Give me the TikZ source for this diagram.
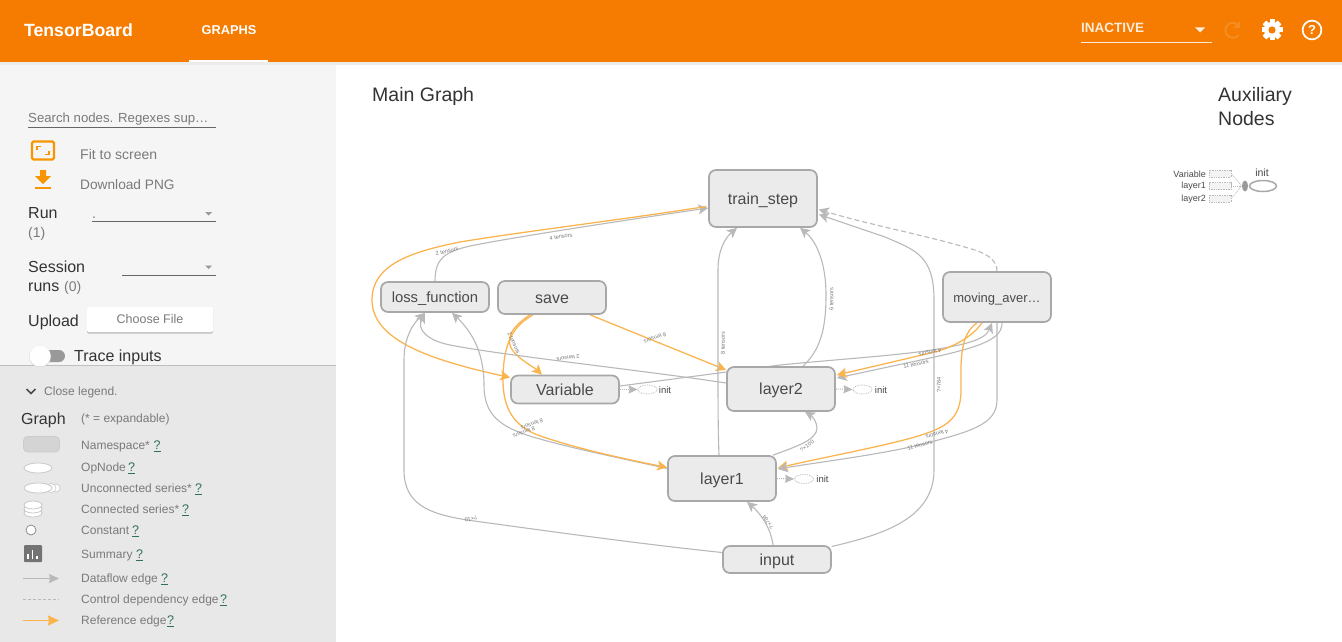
\documentclass[tikz,border=0pt]{standalone}
\usepackage{fontspec}
\setmainfont{Liberation Sans}
\usetikzlibrary{arrows.meta,calc,backgrounds,shadows,shapes.geometric}
\definecolor{hdr}{HTML}{F57C00}
\definecolor{side}{HTML}{F5F5F5}
\definecolor{leg}{HTML}{E8E8E8}
\definecolor{eg}{HTML}{B9B9B9}
\definecolor{eo}{HTML}{FBB34C}
\definecolor{nfill}{HTML}{EBEBEB}
\definecolor{nline}{HTML}{A8A8A8}
\definecolor{txt}{HTML}{4A4A4A}
\definecolor{muted}{HTML}{7A7A7A}
\definecolor{linkc}{HTML}{2F6F5F}
\tikzset{
  gnode/.style={draw=nline,fill=nfill,line width=1.7pt,rounded corners=7pt,inner sep=0pt,
    minimum width=108pt,text=txt,font=\fontsize{16}{16}\selectfont,text height=14pt,text depth=3pt},
  gedge/.style={draw=eg,line width=1.1pt,-{Stealth[length=10pt,width=10pt,inset=2.5pt]}},
  redge/.style={draw=eo,line width=1.25pt,-{Stealth[length=10pt,width=10pt,inset=2.5pt]}},
  cedge/.style={draw=eg,line width=1.1pt,dash pattern=on 5pt off 3pt,-{Stealth[length=10pt,width=10pt,inset=2.5pt]}},
  elabel/.style={inner sep=0pt,text=muted,font=\fontsize{5.6}{6}\selectfont},
  lbl/.style={anchor=west,inner sep=0pt},
  side14/.style={lbl,text=muted,font=\fontsize{14}{14}\selectfont,text height=13pt,text depth=2pt},
  side16/.style={lbl,text=black!80,font=\fontsize{16}{16}\selectfont,text height=14pt,text depth=2.5pt},
  legt/.style={lbl,text=muted,font=\fontsize{12}{12}\selectfont,text height=11.5pt,text depth=2.3pt},
  lk/.style={lbl,text=linkc,font=\fontsize{12.5}{12.5}\selectfont,text height=11.5pt,text depth=2.3pt},
  title/.style={lbl,text=black!80,font=\fontsize{19.5}{20}\selectfont,text height=17pt,text depth=2pt},
  initell/.style={draw=eg,densely dotted,line width=.8pt,fill=white,ellipse,inner sep=0pt,minimum width=19pt,minimum height=9pt},
  inittxt/.style={inner sep=0pt,text=txt,font=\fontsize{9.5}{9.5}\selectfont},
  initedge/.style={draw=eg,densely dotted,line width=1pt,-{Stealth[length=9pt,width=8pt,inset=1pt]}},
  auxbox/.style={draw=eg,densely dotted,line width=.7pt,fill=nfill!60,minimum width=22pt,minimum height=7pt,inner sep=0pt},
  auxtxt/.style={anchor=east,inner sep=0pt,text=txt,font=\fontsize{9}{9}\selectfont},
  uline/.style={draw=black!60,line width=.8pt},
}
\newcommand{\legq}[3]{\node[lk] (#1) at (#2,#3) {\underline{?}};}
\begin{document}
\begin{tikzpicture}[x=1pt,y=-1pt]
\useasboundingbox (0,0) rectangle (1342,642);
\begin{scope}[on background layer]
\fill[white] (0,0) rectangle (1342,642);
\end{scope}
% panels
\fill[side] (0,62) rectangle (336,365);
\fill[leg] (0,365) rectangle (336,642);
\draw[black!25,line width=.8pt] (0,365) -- (336,365);
\fill[black!8] (0,62) rectangle (1342,65);
\fill[hdr] (0,0) rectangle (1342,62);
\node[inner sep=0pt,text=white,font=\bfseries\fontsize{17.7}{18}\selectfont] (brand) at (78.5,30) {TensorBoard};
\node[inner sep=0pt,text=white,font=\bfseries\fontsize{12.8}{14}\selectfont] (tab) at (229,30) {GRAPHS};
\fill[white] (189,60.5) rectangle (268,62);
\node[lbl,text=white!85!hdr,font=\bfseries\fontsize{13.5}{14}\selectfont,text height=12pt,text depth=2pt] (inactive) at (1081,28) {INACTIVE};
\draw[white!85!hdr,line width=.9pt] (1081,42.5) -- (1212,42.5);
\fill[white!85!hdr] (1195,27.5) -- (1205,27.5) -- (1200,32.5) -- cycle;
% refresh
\draw[white!13!hdr,line width=2pt] (1239,26) arc[start angle=-35,end angle=-320,radius=7.5];
\fill[white!13!hdr] (1240,21) -- (1240,28) -- (1233,28) -- cycle;
% gear
\foreach \a in {0,45,...,315}{
  \fill[white,rotate around={\a:(1272,30)}] (1269.5,19.5) rectangle (1274.5,40.5);
}
\fill[white] (1272,30) circle[radius=8];
\fill[hdr] (1272,30) circle[radius=3.6];
% help
\draw[white,line width=1.7pt] (1312,30) circle[radius=9.4];
\node[inner sep=0pt,text=white,font=\bfseries\fontsize{13}{13}\selectfont] (helpq) at (1312,30) {?};
% sidebar
\node[side14,font=\fontsize{13.2}{14}\selectfont] (search) at (28,117) {Search nodes. Regexes sup…};
\draw[uline] (28,127) -- (216,127);
\draw[hdr!80!yellow,line width=2.4pt,rounded corners=1.5pt] (32,141.5) rectangle (54,159.5);
\draw[hdr!80!yellow,line width=1.5pt] (37,150) -- (37,146.5) -- (41,146.5) (49,151) -- (49,154.5) -- (45,154.5);
\fill[hdr!80!yellow] (40,170) -- (46,170) -- (46,176) -- (51,176) -- (43,184) -- (35,176) -- (40,176) -- cycle;
\fill[hdr!80!yellow] (35,186.5) rectangle (51,188.5);
\node[side14] (fit) at (80,154) {Fit to screen};
\node[side14,font=\fontsize{13.7}{14}\selectfont] (png) at (80,184) {Download PNG};
\node[side16] (run) at (28,213) {Run};
\node[side14] (runn) at (28,232) {(1)};
\node[side14] (dot) at (92,213) {.};
\draw[uline] (92,221.5) -- (216,221.5);
\fill[black!40] (205,212) -- (212,212) -- (208.5,215.5) -- cycle;
\node[side16] (sess) at (28,267) {Session};
\node[side16] (runs) at (28,286) {runs};
\node[side14] (sessn) at (64,286) {(0)};
\draw[uline] (122,275) -- (216,275);
\fill[black!40] (205,265.5) -- (212,265.5) -- (208.5,269) -- cycle;
\node[side16] (upl) at (28,320.5) {Upload};
\node[draw=none,fill=white,drop shadow={shadow xshift=0pt,shadow yshift=-1.5pt,opacity=.45},rounded corners=1.5pt,minimum width=126pt,minimum height=25pt,inner sep=0pt,text=muted,font=\fontsize{12.5}{12.5}\selectfont] (choose) at (150,319.5) {Choose File};
\fill[black!40,rounded corners=6pt] (32,350) rectangle (65,362);
\fill[black!14] (40,356.5) circle[radius=11];
\fill[white] (40,356) circle[radius=10.5];
\node[side16] (trace) at (74,355.5) {Trace inputs};
% legend
\draw[black!70,line width=1.5pt] (26.5,389) -- (31,393.5) -- (35.5,389);
\node[legt] (close) at (44,391) {Close legend.};
\node[side16] (graph) at (21,418.5) {Graph};
\node[legt] (exp) at (81,418) {(* = expandable)};
\draw[black!20,fill=black!17,line width=.8pt,rounded corners=4pt] (23.5,436.5) rectangle (59.5,452);
\draw[black!20,fill=white,line width=.9pt] (38,468) ellipse[x radius=14,y radius=5];
\draw[black!20,fill=white,line width=.7pt] (56,488) ellipse[x radius=4,y radius=4];
\draw[black!20,fill=white,line width=.7pt] (51,488) ellipse[x radius=5,y radius=4.5];
\draw[black!20,fill=white,line width=.9pt] (38,488) ellipse[x radius=14,y radius=5];
\foreach \yy in {513,509,505}{
  \draw[black!22,fill=white,line width=.8pt] (33,\yy) ellipse[x radius=9,y radius=4];
}
\draw[black!45,fill=white,line width=.8pt] (31,530) circle[radius=5];
\fill[black!55,rounded corners=1pt] (24,545) rectangle (42,562);
\draw[white,line width=1.3pt] (28,559) -- (28,554) (32.5,559) -- (32.5,549.5) (37,559) -- (37,556);
\draw[eg,line width=1pt,-{Stealth[length=10pt,width=9pt,inset=1pt]}] (23,578.5) -- (59,578.5);
\draw[eg,line width=.7pt,densely dashed] (23,599.5) -- (59,599.5);
\draw[eo,line width=1.4pt,-{Stealth[length=11pt,width=10pt,inset=1pt]}] (23,620.5) -- (59,620.5);
\node[legt] (t1) at (81,445) {Namespace*};
\legq{q1}{153.5}{445}
\node[legt] (t2) at (81,467) {OpNode};
\legq{q2}{128}{467}
\node[legt] (t3) at (81,488) {Unconnected series*};
\legq{q3}{195}{488}
\node[legt] (t4) at (81,509) {Connected series*};
\legq{q4}{182}{509}
\node[legt] (t5) at (81,530) {Constant};
\legq{q5}{132}{530}
\node[legt] (t6) at (81,554) {Summary};
\legq{q6}{136}{554}
\node[legt] (t7) at (81,578) {Dataflow edge};
\legq{q7}{161}{578}
\node[legt] (t8) at (81,599) {Control dependency edge};
\legq{q8}{220}{599}
\node[legt] (t9) at (81,620) {Reference edge};
\legq{q9}{167}{620}
% titles
\node[title] (mg) at (372,94) {Main Graph};
\node[title] (ax1) at (1218,94) {Auxiliary};
\node[title] (ax2) at (1218,118) {Nodes};
% graph nodes
\node[gnode,minimum height=57pt] (train) at (763,198.5) {train\_step};
\node[gnode,minimum height=30pt,font=\fontsize{14.8}{15}\selectfont] (loss) at (435,297) {loss\_function};
\node[gnode,minimum height=33pt] (save) at (552,297.5) {save};
\node[gnode,minimum height=50pt,font=\fontsize{13}{14}\selectfont] (mov) at (997,297) {moving\_aver…};
\node[gnode,minimum height=28pt] (var) at (565,389.5) {Variable};
\node[gnode,minimum height=44pt] (l2) at (781,389) {layer2};
\node[gnode,minimum height=45pt] (l1) at (722,478.5) {layer1};
\node[gnode,minimum height=27pt] (inp) at (777,559.5) {input};
% edges
\begin{scope}[on background layer]
\draw[gedge] (loss.north) .. controls (435,258) and (445,252) .. (470,246) .. controls (520,236) and (640,218) .. ($(train.west)+(0,9.5)$);
\draw[redge] ($(train.west)+(-2,8)$) .. controls (620,220) and (520,232) .. (460,242) .. controls (410,252) and (372,265) .. (372,300) .. controls (372,340) and (430,360) .. ($(var.west)+(0,-12)$);
\draw[gedge] ($(inp.west)+(0,-7)$) .. controls (640,544) and (540,530) .. (467,520) .. controls (430,514) and (404,505) .. (404,470) -- (404,360) .. controls (404,335) and (415,322) .. ($(loss.south)+(-10,0)$);
\draw[gedge] ($(l1.west)+(0,-10)$) .. controls (620,458) and (570,448) .. (533,437) .. controls (500,427) and (484,415) .. (484,385) .. controls (484,350) and (470,330) .. ($(loss.south)+(17,0)$);
\draw[redge] ($(save.south)+(-19,0)$) .. controls (515,325) and (503,340) .. (503,380) .. controls (503,410) and (515,425) .. (535,434) .. controls (570,447) and (620,458) .. ($(l1.west)+(0,-11)$);
\draw[redge] ($(save.south)+(-22,0)$) .. controls (510,328) and (505,340) .. (513,351) .. controls (520,360) and (535,368) .. ($(var.north)+(-23,0)$);
\draw[redge] ($(save.south)+(38,0)$) -- ($(l2.west)+(0,-19)$);
\draw[gedge] ($(l2.west)+(0,-6)$) .. controls (640,370) and (500,355) .. (450,345) .. controls (425,340) and (417,328) .. ($(loss.south)+(-10,0)$);
\draw[gedge] ($(var.east)+(0,-3.5)$) -- (780,365) .. controls (830,360) and (890,356) .. (925,351) .. controls (965,345) and (985,340) .. ($(mov.south)+(-5,0)$);
\draw[gedge] ($(mov.south)+(5,0)$) .. controls (1002,338) and (985,346) .. (930,358) -- ($(l2.east)+(1,-11)$);
\draw[redge] ($(mov.south)+(-15,0)$) .. controls (975,333) and (960,345) .. (935,352) -- ($(l2.east)+(1,-14)$);
\draw[redge] ($(mov.south)+(-20,0)$) .. controls (966,330) and (961,345) .. (961,370) -- (961,390) .. controls (961,420) and (945,428) .. (915,437) .. controls (880,447) and (820,458) .. ($(l1.east)+(1,-10.5)$);
\draw[gedge] (mov.south) -- (997,400) .. controls (997,425) and (970,432) .. (915,446) .. controls (870,456) and (820,462) .. ($(l1.east)+(1,-9.5)$);
\draw[gedge] ($(l1.north)+(51,0)$) .. controls (795,447) and (817,440) .. (817,428) .. controls (817,422) and (812,416) .. ($(l2.south)+(24,0)$);
\draw[gedge] ($(inp.north)+(-4,0)$) .. controls (771,528) and (760,513) .. ($(l1.south)+(25,0)$);
\draw[gedge] ($(inp.east)+(0,-13)$) .. controls (880,535) and (934,520) .. (934,470) -- (934,300) .. controls (934,255) and (915,250) .. (885,237) -- ($(train.east)+(1,16)$);
\draw[gedge] ($(l1.north)+(-3,0)$) .. controls (718,430) and (718,400) .. (718,360) -- (718,270) .. controls (718,250) and (725,238) .. ($(train.south)+(-26,0)$);
\draw[gedge] ($(l2.north)+(22,0)$) .. controls (820,350) and (826,330) .. (826,295) .. controls (826,260) and (815,240) .. ($(train.south)+(37,0)$);
\draw[cedge] (mov.north) .. controls (997,262) and (990,255) .. (975,250) .. controls (925,235) and (870,225) .. ($(train.east)+(1,11)$);
\end{scope}
% edge labels
\node[elabel,rotate=9] (e1) at (561,236.5) {4 tensors};
\node[elabel,rotate=13] (e2) at (447,251) {2 tensors};
\node[elabel,rotate=195] (e3) at (471,519) {?×10};
\node[elabel,rotate=200] (e4) at (532,424.5) {8 tensors};
\node[elabel,rotate=200] (e5) at (524,432.5) {8 tensors};
\node[elabel,rotate=-65] (e6) at (514,343) {2 tensors};
\node[elabel,rotate=199] (e7) at (655,338) {8 tensors};
\node[elabel,rotate=188] (e8) at (568,358) {2 tensors};
\node[elabel,rotate=12] (e9) at (916,364) {11 tensors};
\node[elabel,rotate=192] (e10) at (930,352.5) {4 tensors};
\node[elabel,rotate=196] (e11) at (937,434) {4 tensors};
\node[elabel,rotate=15] (e12) at (920,445) {11 tensors};
\node[elabel,rotate=35] (e13) at (807,446) {?×100};
\node[elabel,rotate=125] (e14) at (768,522) {?×784};
\node[elabel,rotate=90] (e15) at (939,385) {?×784};
\node[elabel,rotate=90] (e16) at (723,343) {8 tensors};
\node[elabel,rotate=90] (e17) at (831.5,299) {6 tensors};
% init stubs
\node[initell] (ia) at (647.5,389.5) {};
\node[initell] (ib) at (862.5,389.5) {};
\node[initell] (ic) at (804,479) {};
\draw[initedge] (var.east) -- (ia.west);
\draw[initedge] (l2.east) -- (ib.west);
\draw[initedge] (l1.east) -- (ic.west);
\node[inittxt] (ta) at (665,390) {init};
\node[inittxt] (tb) at (881,390) {init};
\node[inittxt] (tc) at (822.5,479) {init};
% auxiliary
\node[auxbox] (b1) at (1220,173.5) {};
\node[auxbox] (b2) at (1220,186) {};
\node[auxbox] (b3) at (1220,198.5) {};
\node[auxtxt] (x1) at (1206,174) {Variable};
\node[auxtxt] (x2) at (1206,186) {layer1};
\node[auxtxt] (x3) at (1206,199) {layer2};
\node[draw=nline,line width=1.5pt,fill=white,ellipse,inner sep=0pt,minimum width=27pt,minimum height=11pt] (y0) at (1263,186) {};
\node[fill=black!40,ellipse,inner sep=0pt,minimum width=6pt,minimum height=11pt] (yh) at (1245,186) {};
\draw[draw=eg,densely dotted,line width=.8pt] (b1.east) -- (yh.west);
\draw[draw=eg,densely dotted,line width=.8pt] (b2.east) -- (yh.west);
\draw[draw=eg,densely dotted,line width=.8pt] (b3.east) -- (yh.west);
\node[inner sep=0pt,text=txt,font=\fontsize{10.5}{10.5}\selectfont] (yt) at (1262,172.5) {init};
\end{tikzpicture}
\end{document}
